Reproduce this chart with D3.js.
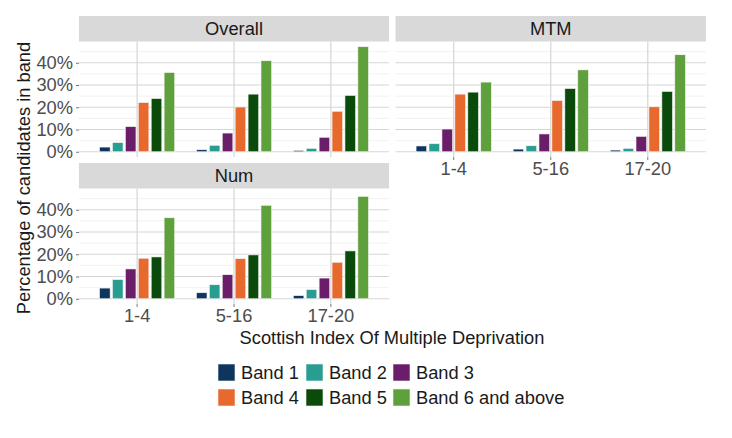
<!DOCTYPE html>
<html>
<head>
<meta charset="utf-8">
<script src="https://cdn.jsdelivr.net/npm/d3@7"></script>
<style>
  html, body { margin: 0; padding: 0; background: #fff; }
  svg { display: block; font-family: "Liberation Sans", Arial, Helvetica, sans-serif; }
</style>
</head>
<body>
<div id="chart"></div>
<script>
// SIMD-Gruppen (x), Bänder (Farbe), Panels (facet_wrap)
const categories = ["1-4", "5-16", "17-20"];
const bands = ["Band 1", "Band 2", "Band 3", "Band 4", "Band 5", "Band 6 and above"];
const panels = ["Overall", "MTM", "Num"];
const yTicks = [0, 10, 20, 30, 40];
const yMinor = [5, 15, 25, 35, 45];
const colors = ["#0e355e", "#2a9d92", "#6a1d68", "#e8692d", "#0a4a0a", "#5ea03b"];

// Prozentwerte je Band, Reihenfolge wie categories
const overall = [
  [2.1, 0.9, 0.6],
  [4.1, 2.9, 1.5],
  [11.3, 8.4, 6.5],
  [22.1, 20.1, 18.2],
  [23.9, 25.9, 25.3],
  [35.6, 40.9, 47.2]
];
const mtm = [
  [2.6, 1.2, 0.75],
  [3.6, 2.7, 1.5],
  [10.2, 8.0, 6.9],
  [25.9, 23.0, 20.2],
  [26.8, 28.4, 27.1],
  [31.3, 36.8, 43.6]
];
const num = [
  [4.8, 2.7, 1.4],
  [8.6, 6.3, 4.1],
  [13.4, 10.8, 9.3],
  [18.2, 18.0, 16.4],
  [18.8, 19.7, 21.5],
  [36.4, 42.0, 46.0]
];
const panelValues = [overall, mtm, num];

const W = 732, H = 438;
const FS = 18.3;
const svg = d3.select("#chart").append("svg").attr("width", W).attr("height", H);

// Panel-Geometrie: 2 Spalten, 2 Zeilen (unten rechts leer)
const cols = [{ x0: 79, x1: 389 }, { x0: 395.5, x1: 706 }];
const rows = [{ s0: 16, top: 41.5, bottom: 157 }, { s0: 163, top: 188.5, bottom: 304 }];
const layout = [
  { col: 0, row: 0, yLabels: true, xLabels: false },
  { col: 1, row: 0, yLabels: false, xLabels: true },
  { col: 0, row: 1, yLabels: true, xLabels: true }
];

// feste y-Skala wie ggplot (5% Expansion unten und oben)
const maxVal = d3.max(panelValues.flat(2));

// Daten in lange Form bringen
const rowsOf = vals => {
  const out = [];
  bands.forEach((b, bi) => categories.forEach((c, ci) => out.push({ band: b, bi, cat: c, v: vals[bi][ci] })));
  return out;
};

panels.forEach((name, pi) => {
  const L = layout[pi];
  const C = cols[L.col], R = rows[L.row];
  const g = svg.append("g");

  const x = d3.scaleBand().domain(categories).range([C.x0, C.x1]).paddingInner(0).paddingOuter(0.1);
  const xb = d3.scaleBand().domain(bands).range([-0.4 * x.step(), 0.4 * x.step()]);
  const y = d3.scaleLinear().domain([-0.05 * maxVal, 1.05 * maxVal]).range([R.bottom, R.top]);

  // Streifen oben
  g.append("rect").attr("x", C.x0).attr("y", R.s0).attr("width", C.x1 - C.x0).attr("height", R.top - R.s0)
    .attr("fill", "#d9d9d9");
  g.append("text").attr("x", (C.x0 + C.x1) / 2).attr("y", (R.s0 + R.top) / 2).attr("dy", "0.35em")
    .attr("text-anchor", "middle").style("font-size", FS + "px").attr("fill", "#1a1a1a").text(name);

  // Gitter
  g.selectAll("line.minor").data(yMinor).enter().append("line")
    .attr("x1", C.x0).attr("x2", C.x1).attr("y1", d => y(d)).attr("y2", d => y(d))
    .attr("stroke", "#ebebeb").attr("stroke-width", 0.7);
  g.selectAll("line.major").data(yTicks).enter().append("line")
    .attr("x1", C.x0).attr("x2", C.x1).attr("y1", d => y(d)).attr("y2", d => y(d))
    .attr("stroke", "#d6d6d6").attr("stroke-width", 1.2);
  g.selectAll("line.vmajor").data(categories).enter().append("line")
    .attr("x1", d => x(d) + x.bandwidth() / 2).attr("x2", d => x(d) + x.bandwidth() / 2)
    .attr("y1", R.top).attr("y2", R.bottom)
    .attr("stroke", "#d6d6d6").attr("stroke-width", 1.2);

  // Balken
  const bw = xb.bandwidth();
  g.selectAll("rect.bar").data(rowsOf(panelValues[pi])).enter().append("rect")
    .attr("class", "bar")
    .attr("x", d => x(d.cat) + x.bandwidth() / 2 + xb(d.band) + bw * 0.09)
    .attr("width", bw * 0.82)
    .attr("y", d => y(d.v))
    .attr("height", d => y(0) - y(d.v))
    .attr("fill", d => colors[d.bi])
    .attr("stroke", "#f4f4f4").attr("stroke-width", 0.6);

  // y-Achse
  if (L.yLabels) {
    const ya = g.append("g").attr("transform", `translate(${C.x0},0)`)
      .call(d3.axisLeft(y).tickValues(yTicks).tickSize(3).tickPadding(3).tickFormat(d => d + "%"));
    ya.select(".domain").remove();
    ya.selectAll("line").attr("stroke", "#555").attr("stroke-width", 0.8);
    ya.selectAll("text").style("font-size", FS + "px").style("font-family", "inherit").attr("fill", "#4d4d4d");
  }

  // x-Achse
  if (L.xLabels) {
    const xa = g.append("g").attr("transform", `translate(0,${R.bottom})`)
      .call(d3.axisBottom(x).tickSize(3).tickPadding(2.5));
    xa.select(".domain").remove();
    xa.selectAll("line").attr("stroke", "#555").attr("stroke-width", 0.8);
    xa.selectAll("text").style("font-size", FS + "px").style("font-family", "inherit").attr("fill", "#4d4d4d");
  }
});

// Achsentitel
svg.append("text")
  .attr("transform", "translate(24,178) rotate(-90)")
  .attr("text-anchor", "middle").attr("dy", "0.35em")
  .style("font-size", FS + "px").attr("fill", "#1a1a1a")
  .text("Percentage of candidates in band");

svg.append("text")
  .attr("x", 392).attr("y", 337.5).attr("dy", "0.35em")
  .attr("text-anchor", "middle")
  .style("font-size", FS + "px").attr("fill", "#1a1a1a")
  .text("Scottish Index Of Multiple Deprivation");

// Legende: 2 Zeilen x 3 Spalten
const legX = [218, 306, 393], legY = [364, 389], key = 17;
const leg = svg.append("g").selectAll("g").data(bands).enter().append("g")
  .attr("transform", (d, i) => `translate(${legX[i % 3]},${legY[Math.floor(i / 3)]})`);
leg.append("rect").attr("width", key).attr("height", key)
  .attr("fill", (d, i) => colors[i]).attr("stroke", "#f4f4f4").attr("stroke-width", 0.6);
leg.append("text").attr("x", key + 6).attr("y", key / 2).attr("dy", "0.35em")
  .style("font-size", FS + "px").attr("fill", "#1a1a1a").text(d => d);
</script>
</body>
</html>
